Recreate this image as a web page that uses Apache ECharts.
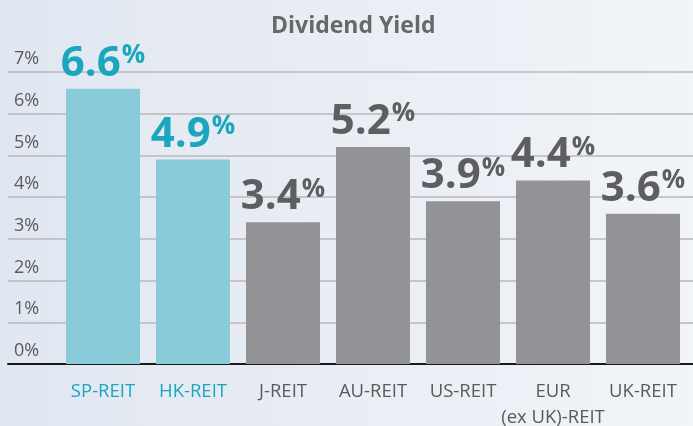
<!DOCTYPE html>
<html>
<head>
<meta charset="utf-8">
<script src="https://cdn.jsdelivr.net/npm/echarts@6/dist/echarts.min.js"></script>
<style>
  html, body { margin: 0; padding: 0; }
  #chart { width: 693px; height: 426px; }
</style>
</head>
<body>
<div id="chart"></div>
<script>
const categories = ['SP-REIT', 'HK-REIT', 'J-REIT', 'AU-REIT', 'US-REIT', 'EUR\n(ex UK)-REIT', 'UK-REIT']
const yields = [6.6, 4.9, 3.4, 5.2, 3.9, 4.4, 3.6]
const highlighted = ['SP-REIT', 'HK-REIT']

const teal = '#1aa6bd'
const grey = '#5e5e60'
const font = 'Open Sans'

const chart = echarts.init(document.getElementById('chart'))

const option = {
  animation: false,
  backgroundColor: {
    type: 'linear', x: 0, y: 0, x2: 1, y2: 0,
    colorStops: [
      { offset: 0, color: '#e1e7f1' },
      { offset: 1, color: '#f1f4f8' }
    ]
  },
  title: {
    text: 'Dividend Yield',
    left: 266,
    top: 10,
    textStyle: { fontFamily: font, fontSize: 23, fontWeight: 'bold', color: '#68686a' }
  },
  grid: [
    { left: 58, width: 630, top: 72, bottom: 62, outerBoundsMode: 'none', containLabel: false },
    { left: 8, right: 0, top: 72, bottom: 62, outerBoundsMode: 'none', containLabel: false }
  ],
  xAxis: [{
    type: 'category',
    gridIndex: 0,
    data: categories,
    axisLine: { show: false },
    axisTick: { show: false },
    axisLabel: {
      interval: 0,
      margin: 15,
      fontFamily: font,
      fontSize: 18.5,
      lineHeight: 26,
      color: (v) => highlighted.includes(v) ? teal : '#5a5a5c'
    }
  }, {
    type: 'value',
    gridIndex: 1,
    min: 0,
    max: 1,
    axisLine: { show: true, onZero: false, lineStyle: { color: '#1a1a1a', width: 2 } },
    axisTick: { show: false },
    axisLabel: { show: false },
    splitLine: { show: false }
  }],
  yAxis: [{
    type: 'value',
    gridIndex: 0,
    min: 0,
    max: 7,
    interval: 1,
    axisLine: { show: false },
    axisTick: { show: false },
    axisLabel: { show: false },
    splitLine: { show: false }
  }, {
    type: 'value',
    gridIndex: 1,
    min: 0,
    max: 7,
    interval: 1,
    axisLine: { show: false },
    axisTick: { show: false },
    splitLine: { lineStyle: { color: '#b7b9bd', width: 1.5 } },
    axisLabel: {
      inside: true,
      margin: 6,
      verticalAlign: 'bottom',
      padding: [0, 0, 4, 0],
      fontFamily: font,
      fontSize: 18,
      color: '#5a5a5c',
      formatter: (v) => v + '%'
    }
  }],
  series: [{
    type: 'bar',
    xAxisIndex: 0,
    yAxisIndex: 0,
    barWidth: 74,
    data: yields.map((v, i) => ({
      value: v,
      itemStyle: { color: highlighted.includes(categories[i]) ? '#8acbd9' : '#939397' }
    })),
    label: {
      show: true,
      position: 'top',
      distance: 4,
      formatter: (p) => {
        const k = highlighted.includes(p.name) ? 't' : 'g'
        return '{v' + k + '|' + p.value.toFixed(1) + '}{p' + k + '|%}'
      },
      rich: {
        vt: { fontFamily: font, fontSize: 42, fontWeight: 'bold', color: teal, lineHeight: 42, verticalAlign: 'bottom' },
        pt: { fontFamily: font, fontSize: 26, fontWeight: 'bold', color: teal, lineHeight: 30, verticalAlign: 'top', padding: [0, 0, 0, 1] },
        vg: { fontFamily: font, fontSize: 42, fontWeight: 'bold', color: grey, lineHeight: 42, verticalAlign: 'bottom' },
        pg: { fontFamily: font, fontSize: 26, fontWeight: 'bold', color: grey, lineHeight: 30, verticalAlign: 'top', padding: [0, 0, 0, 1] }
      }
    }
  }]
}

chart.setOption(option)
window.addEventListener('resize', () => chart.resize())
</script>
</body>
</html>
